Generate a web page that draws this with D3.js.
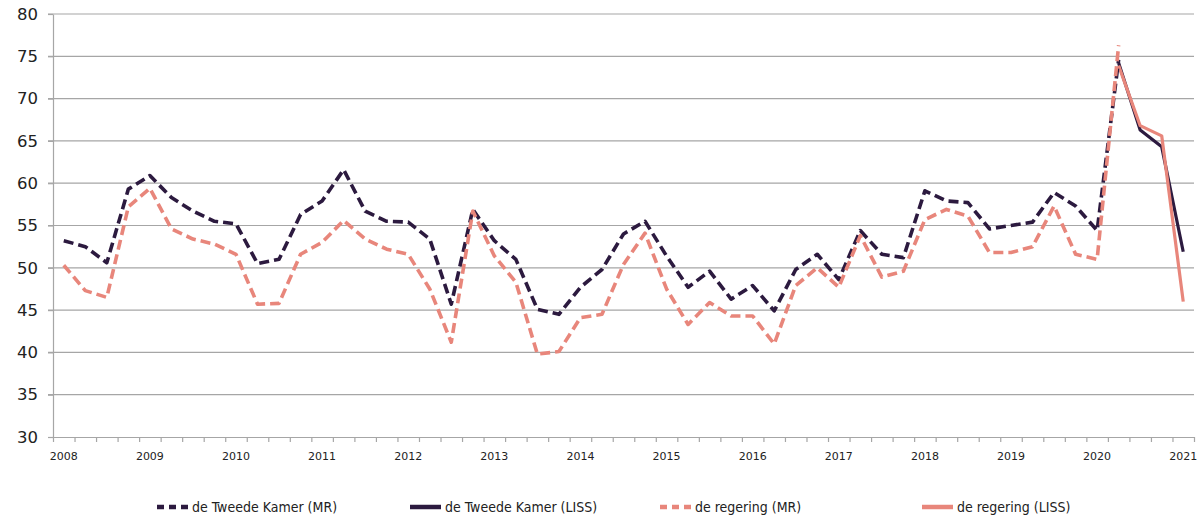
<!DOCTYPE html>
<html>
<head>
<meta charset="utf-8">
<script src="https://cdn.jsdelivr.net/npm/d3@7"></script>
<style>
  body { margin: 0; background: #fff; }
  svg { display: block; }
  .grid line { stroke: #a6a6a6; stroke-width: 1.2; }
  .axis path, .axis line { stroke: #a6a6a6; stroke-width: 1.2; }
  .axis text { fill: #222; font-family: "DejaVu Sans", Verdana, sans-serif; }
  .legend text { fill: #222; font-family: "Liberation Sans Narrow", "DejaVu Sans Condensed", sans-serif; font-size: 14px; }
</style>
</head>
<body>
<div id="chart"></div>
<script>
    // quarters, 2008 Q1 .. 2021 Q1
    var years = d3.range(2008, 2022);
    var quarters = d3.range(53);

    var yTicks = [30, 35, 40, 45, 50, 55, 60, 65, 70, 75, 80];

    // vertrouwen in ... (MR = quarterly monitor, LISS = panel)
    var tkMR = [53.2, 52.5, 50.6, 59.3, 60.9, 58.3, 56.7, 55.5, 55.2, 50.5,
                51.0, 56.3, 57.9, 61.6, 56.7, 55.5, 55.4, 53.4, 45.7, 56.9,
                53.2, 51.0, 45.1, 44.5, 47.7, 49.8, 54.0, 55.5, 51.4, 47.7,
                49.6, 46.3, 47.9, 44.9, 49.8, 51.6, 48.6, 54.4, 51.6, 51.2,
                59.1, 57.9, 57.7, 54.6, 55.0, 55.4, 58.9, 57.3, 54.4, 74.6,
                null, null, null];
    var regMR = [50.3, 47.3, 46.5, 57.2, 59.4, 54.6, 53.4, 52.8, 51.6, 45.7,
                 45.8, 51.6, 53.0, 55.6, 53.4, 52.2, 51.6, 47.5, 41.2, 56.7,
                 51.4, 48.3, 39.8, 40.1, 44.1, 44.5, 50.4, 54.1, 47.5, 43.3,
                 45.9, 44.3, 44.3, 41.0, 47.9, 50.0, 47.7, 53.8, 48.9, 49.6,
                 55.7, 56.9, 56.1, 51.8, 51.8, 52.5, 57.3, 51.6, 51.0, 76.3,
                 null, null, null];
    var tkLISS = quarters.map(function () { return null; });
    tkLISS[49] = 74.2; tkLISS[50] = 66.3; tkLISS[51] = 64.3; tkLISS[52] = 51.9;
    var regLISS = quarters.map(function () { return null; });
    regLISS[49] = 73.9; regLISS[50] = 66.8; regLISS[51] = 65.6; regLISS[52] = 46.0;

    var dark = "#2c1a3f",
        pink = "#e8867b";

    var series = [
        {name: "de Tweede Kamer (MR)", values: tkMR, color: dark, dash: "10,5"},
        {name: "de Tweede Kamer (LISS)", values: tkLISS, color: dark, dash: null},
        {name: "de regering (MR)", values: regMR, color: pink, dash: "10,5"},
        {name: "de regering (LISS)", values: regLISS, color: pink, dash: null}
    ];

    var width = 1198, height = 520;
    var plotL = 53, plotR = 1194, plotT = 14, plotB = 437;

    var svg = d3.select("#chart").append("svg")
        .attr("width", width)
        .attr("height", height);

    var x = d3.scaleBand().domain(quarters).range([plotL, plotR]).padding(0);
    var xEdge = d3.scaleLinear().domain([0, 53]).range([plotL, plotR]);
    var y = d3.scaleLinear().domain([30, 80]).range([plotB, plotT]);

    // horizontal gridlines
    svg.append("g")
        .attr("class", "grid")
        .selectAll("line")
        .data(yTicks.slice(1))
        .enter().append("line")
        .attr("x1", plotL - 5)
        .attr("x2", plotR)
        .attr("y1", function (d) { return y(d); })
        .attr("y2", function (d) { return y(d); });

    // y axis
    var yAxis = svg.append("g")
        .attr("class", "axis")
        .attr("transform", "translate(" + plotL + ",0)")
        .call(d3.axisLeft(y).tickValues(yTicks).tickSize(5).tickSizeOuter(0).tickPadding(10));
    yAxis.selectAll("text").attr("font-size", 16.5);

    // x axis: ticks between quarters, labels under first quarter of each year
    svg.append("g")
        .attr("class", "axis")
        .attr("transform", "translate(0," + plotB + ")")
        .call(d3.axisBottom(xEdge).tickValues(d3.range(54)).tickSize(5).tickSizeOuter(0).tickFormat(""));

    var xLab = svg.append("g")
        .attr("class", "axis")
        .attr("transform", "translate(0," + plotB + ")")
        .call(d3.axisBottom(x)
            .tickValues(quarters.filter(function (d) { return d % 4 === 0; }))
            .tickSize(0).tickPadding(15)
            .tickFormat(function (d) { return years[d / 4]; }));
    xLab.select(".domain").remove();
    xLab.selectAll("text").attr("font-size", 11);

    var line = d3.line()
        .defined(function (d) { return d != null; })
        .x(function (d, i) { return x(i) + x.bandwidth() / 2; })
        .y(function (d) { return y(d); });

    // draw LISS first, MR dashes on top
    var order = [series[1], series[3], series[0], series[2]];
    svg.append("g").selectAll("path")
        .data(order)
        .enter().append("path")
        .attr("d", function (d) { return line(d.values); })
        .attr("fill", "none")
        .attr("stroke", function (d) { return d.color; })
        .attr("stroke-width", function (d) { return d.dash ? 3.6 : 3.2; })
        .attr("stroke-dasharray", function (d) { return d.dash; })
        .attr("stroke-linejoin", "round");

    // legend
    var legendX = [157, 410, 660, 922];
    var legend = svg.append("g").attr("class", "legend")
        .selectAll("g")
        .data(series)
        .enter().append("g")
        .attr("transform", function (d, i) { return "translate(" + legendX[i] + ",507)"; });
    legend.append("line")
        .attr("x1", 0).attr("x2", 31)
        .attr("stroke", function (d) { return d.color; })
        .attr("stroke-width", 4.5)
        .attr("stroke-dasharray", function (d) { return d.dash ? "7,5" : null; });
    legend.append("text")
        .attr("x", 35)
        .attr("dy", "0.35em")
        .text(function (d) { return d.name; });
</script>
</body>
</html>
